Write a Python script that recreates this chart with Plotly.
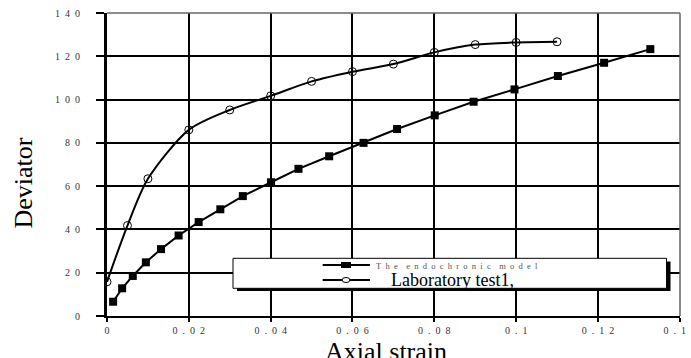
import plotly.graph_objects as go

# Data
lab_x = [0, 0.005, 0.01, 0.02, 0.03, 0.04, 0.05, 0.06, 0.07, 0.08, 0.09, 0.10, 0.11]
lab_y = [15.8, 41.8, 63.4, 86.0, 95.2, 101.7, 108.4, 112.9, 116.4, 121.8, 125.4, 126.4, 126.7]

model_x = [0.0015, 0.0037, 0.0063, 0.0095, 0.0132, 0.0175, 0.0224, 0.0277, 0.0332, 0.0401,
           0.0468, 0.0543, 0.0627, 0.0709, 0.0801, 0.0896, 0.0996, 0.1102, 0.1215, 0.1328]
model_y = [6.6, 12.8, 18.5, 24.8, 30.9, 37.2, 43.4, 49.3, 55.4, 61.8,
           68.0, 73.8, 80.0, 86.4, 92.7, 99.0, 104.7, 110.9, 117.0, 123.3]

x_ticks = [0, 0.02, 0.04, 0.06, 0.08, 0.10, 0.12, 0.14]
x_tick_labels = ["0", "0.02", "0.04", "0.06", "0.08", "0.1", "0.12", "0.14"]
y_ticks = [0, 20, 40, 60, 80, 100, 120, 140]
y_tick_labels = ["0", "20", "40", "60", "80", "100", "120", "140"]

series_names = ["The endochronic model", "Laboratory test1"]

SP = "\u2002"
def spaced(s):
    return SP.join(list(s))

SERIF = "Liberation Serif, Times New Roman, serif"

fig = go.Figure()
fig.add_trace(go.Scatter(
    x=model_x, y=model_y, mode="lines+markers", name=series_names[0],
    line=dict(color="black", width=2),
    marker=dict(symbol="square", size=8, color="black"),
    showlegend=False,
))
fig.add_trace(go.Scatter(
    x=lab_x, y=lab_y, mode="lines+markers", name=series_names[1],
    line=dict(color="black", width=2, shape="spline", smoothing=0.8),
    marker=dict(symbol="circle-open", size=8, color="black", line=dict(width=1)),
    showlegend=False,
))

W, H = 691, 358
L, R, T, B = 107, 11, 13, 42
pw, ph = W - L - R, H - T - B

def px(x):
    return (x - L) / pw

def py(y):
    return (H - B - y) / ph

shapes = []
# top & right borders (grey)
shapes.append(dict(type="line", xref="paper", yref="paper", x0=0, x1=1, y0=1, y1=1,
                   line=dict(color="#666", width=1.5), layer="above"))
shapes.append(dict(type="line", xref="paper", yref="paper", x0=1, x1=1, y0=0, y1=1,
                   line=dict(color="#666", width=1.5), layer="above"))
# legend shadow
shapes.append(dict(type="rect", xref="paper", yref="paper", x0=px(237), x1=px(670.5),
                   y0=py(291), y1=py(261.5), fillcolor="black", line=dict(width=0), layer="above"))
# legend box
shapes.append(dict(type="rect", xref="paper", yref="paper", x0=px(233), x1=px(666.5),
                   y0=py(288.3), y1=py(258.3), fillcolor="white",
                   line=dict(color="black", width=1), layer="above"))
# legend sample lines
for yy in (265, 280):
    shapes.append(dict(type="line", xref="paper", yref="paper", x0=px(322.7), x1=px(370),
                       y0=py(yy), y1=py(yy), line=dict(color="black", width=2), layer="above"))
shapes.append(dict(type="rect", xref="paper", yref="paper", x0=px(341), x1=px(351),
                   y0=py(268), y1=py(262), fillcolor="black", line=dict(width=0), layer="above"))
shapes.append(dict(type="circle", xref="paper", yref="paper", x0=px(342), x1=px(350),
                   y0=py(282.5), y1=py(277.5), fillcolor="white",
                   line=dict(color="black", width=1), layer="above"))

annotations = [
    dict(text="Deviator", xref="paper", yref="paper", x=0, y=py(183.5), xanchor="center",
         yanchor="middle", xshift=23 - L, textangle=-90, showarrow=False,
         font=dict(family=SERIF, size=26, color="black")),
    dict(text="Axial strain", xref="paper", yref="paper", x=px(386), y=0, xanchor="center",
         yanchor="top", yshift=-19, showarrow=False,
         font=dict(family=SERIF, size=26, color="black")),
    dict(text="\u2003".join(spaced(w) for w in series_names[0].split(" ")),
         xref="paper", yref="paper", x=px(374), y=py(259), xanchor="left", yanchor="top",
         showarrow=False, font=dict(family=SERIF, size=8.5, color="#555")),
    dict(text=series_names[1] + ",", xref="paper", yref="paper", x=px(389), y=py(280),
         xanchor="left", yanchor="middle", showarrow=False,
         font=dict(family=SERIF, size=18, color="black")),
]

fig.update_layout(
    width=W, height=H, margin=dict(l=L, r=R, t=T, b=B),
    paper_bgcolor="white", plot_bgcolor="rgba(0,0,0,0)",
    shapes=shapes, annotations=annotations, showlegend=False,
    xaxis=dict(range=[0, 0.14005], tickmode="array", tickvals=x_ticks,
               ticktext=[spaced(t) for t in x_tick_labels], automargin=False,
               ticklabeloverflow="allow",
               showgrid=True, gridcolor="black", gridwidth=1.5, zeroline=False,
               showline=True, linecolor="black", linewidth=2,
               ticks="outside", ticklen=4, tickwidth=2, tickcolor="black",
               tickfont=dict(family=SERIF, size=10, color="#333")),
    yaxis=dict(range=[0, 140], tickmode="array", tickvals=y_ticks,
               ticktext=[spaced(t) for t in y_tick_labels], automargin=False,
               ticklabeloverflow="allow",
               showgrid=True, gridcolor="black", gridwidth=1.5, zeroline=False,
               showline=True, linecolor="black", linewidth=3,
               ticks="outside", ticklen=8, tickwidth=2, tickcolor="black",
               ticklabelstandoff=14,
               tickfont=dict(family=SERIF, size=10, color="#333")),
)

fig.write_html("out.html")
